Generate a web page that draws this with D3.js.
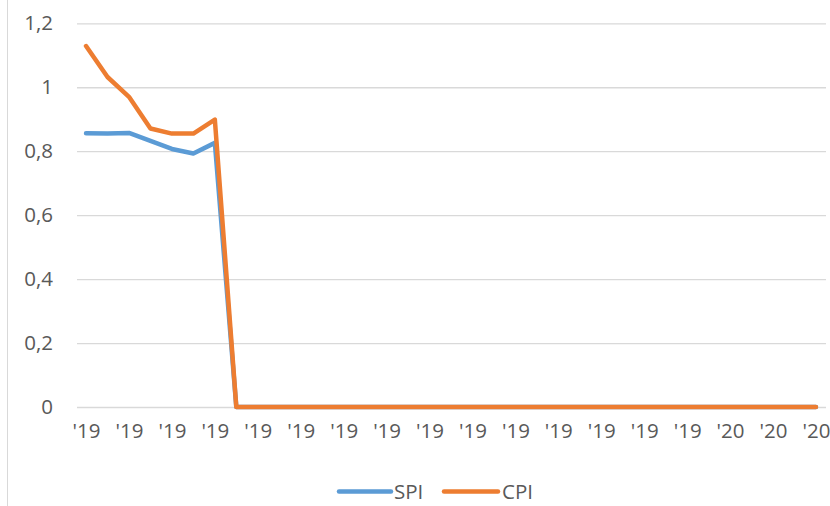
<!DOCTYPE html>
<html>
<head>
<meta charset="utf-8">
<script src="https://cdn.jsdelivr.net/npm/d3@7"></script>
<style>
  html, body { margin: 0; padding: 0; background: #fff; }
  svg { display: block; }
  text { font-family: "Open Sans", "Liberation Sans", sans-serif; fill: #595959; }
</style>
</head>
<body>
<svg id="chart" width="830" height="506"></svg>
<script>
// ---- data ----
const categories = [
  "'19","'19","'19","'19","'19","'19","'19","'19","'19","'19",
  "'19","'19","'19","'19","'19","'19","'19","'19","'19","'19",
  "'19","'19","'19","'19","'19","'19","'19","'19","'19","'19",
  "'20","'20","'20","'20","'20"
];
const spi = [
  0.856, 0.855, 0.857, 0.832, 0.807, 0.793, 0.826, 0, 0, 0,
  0, 0, 0, 0, 0, 0, 0, 0, 0, 0,
  0, 0, 0, 0, 0, 0, 0, 0, 0, 0,
  0, 0, 0, 0, 0
];
const cpi = [
  1.129, 1.032, 0.970, 0.871, 0.855, 0.855, 0.899, 0, 0, 0,
  0, 0, 0, 0, 0, 0, 0, 0, 0, 0,
  0, 0, 0, 0, 0, 0, 0, 0, 0, 0,
  0, 0, 0, 0, 0
];
const yTicks = [0, 0.2, 0.4, 0.6, 0.8, 1, 1.2];
const seriesNames = ["SPI", "CPI"];
const seriesColors = ["#5B9BD5", "#ED7D31"];

// ---- layout ----
const svg = d3.select("#chart");
const plotLeft = 77, plotRight = 826, plotTop = 23.3, plotBottom = 407;
const fontSize = 20.5;

const idx = d3.range(categories.length);
const x = d3.scalePoint().domain(idx).range([75.3, 826.7]).padding(0.5);
const y = d3.scaleLinear().domain([0, 1.2]).range([plotBottom, plotTop]);

const fmt = v => String(+v.toFixed(1)).replace(".", ",");

// chart area left border
svg.append("line")
  .attr("x1", 7.5).attr("x2", 7.5).attr("y1", 0).attr("y2", 506)
  .attr("stroke", "#D9D9D9").attr("stroke-width", 1);

// gridlines + y labels via axis
const yAxis = d3.axisLeft(y).tickValues(yTicks).tickFormat(fmt)
  .tickSize(-(plotRight - plotLeft)).tickPadding(24);
const gy = svg.append("g").attr("transform", `translate(${plotLeft},0)`).call(yAxis);
gy.select(".domain").remove();
gy.selectAll(".tick line").attr("stroke", "#D9D9D9").attr("stroke-width", 1.3);
gy.selectAll(".tick text").attr("font-size", fontSize).style("fill", "#595959")
  .attr("font-family", "'Open Sans', sans-serif");

// x axis labels (every other category)
const xAxis = d3.axisBottom(x)
  .tickValues(idx.filter(i => i % 2 === 0))
  .tickFormat(i => categories[i])
  .tickSize(0).tickPadding(16);
const gx = svg.append("g").attr("transform", `translate(0,${plotBottom})`).call(xAxis);
gx.select(".domain").remove();
gx.selectAll(".tick text").attr("font-size", fontSize).style("fill", "#595959")
  .attr("font-family", "'Open Sans', sans-serif");

// lines
const line = d3.line().x((d, i) => x(i)).y(d => y(d)).curve(d3.curveLinear);
[spi, cpi].forEach((s, k) => {
  svg.append("path").datum(s)
    .attr("d", line)
    .attr("fill", "none")
    .attr("stroke", seriesColors[k])
    .attr("stroke-width", 4.5)
    .attr("stroke-linejoin", "round")
    .attr("stroke-linecap", "round");
});

// legend
const legendItems = [
  { x1: 339, x2: 391, tx: 394 },
  { x1: 444, x2: 498, tx: 502 }
];
const legendY = 491.5;
legendItems.forEach((it, k) => {
  svg.append("line")
    .attr("x1", it.x1).attr("x2", it.x2).attr("y1", legendY).attr("y2", legendY)
    .attr("stroke", seriesColors[k]).attr("stroke-width", 4.5).attr("stroke-linecap", "round");
  svg.append("text")
    .attr("x", it.tx).attr("y", legendY).attr("dy", "0.35em")
    .attr("font-size", fontSize).text(seriesNames[k]);
});
</script>
</body>
</html>
